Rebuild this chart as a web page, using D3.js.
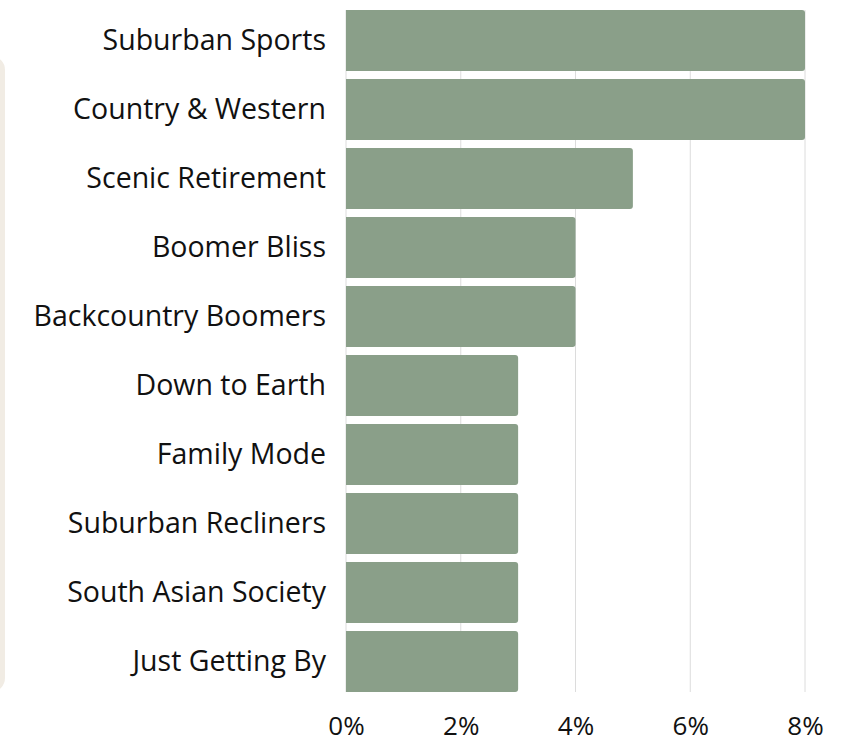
<!DOCTYPE html>
<html>
<head>
<meta charset="utf-8">
<script src="https://cdn.jsdelivr.net/npm/d3@7"></script>
<style>
  body { margin: 0; background: #fff; }
  svg { display: block; font-family: "Open Sans", sans-serif; }
</style>
</head>
<body>
<script>
// data
var segments = ['Suburban Sports', 'Country & Western', 'Scenic Retirement', 'Boomer Bliss',
    'Backcountry Boomers', 'Down to Earth', 'Family Mode', 'Suburban Recliners',
    'South Asian Society', 'Just Getting By']
var shares = [8, 8, 5, 4, 4, 3, 3, 3, 3, 3]
var xTicks = [0, 2, 4, 6, 8]

var W = 846, H = 741
var margin = { top: 10, right: 41, bottom: 49, left: 346 },
    width = W - margin.left - margin.right,
    height = H - margin.top - margin.bottom

var data = segments.map((s, i) => ({ name: s, value: shares[i] }))

var svg = d3.select('body').append('svg')
    .attr('width', W)
    .attr('height', H)

// beige side panel, mostly off-canvas
svg.append('rect')
    .attr('x', -30)
    .attr('y', 56)
    .attr('width', 35)
    .attr('height', 636)
    .attr('rx', 14)
    .attr('fill', '#f1ece4')

var g = svg.append('g')
    .attr('transform', 'translate(' + margin.left + ',' + margin.top + ')')

var x = d3.scaleLinear().domain([0, 8]).range([0, width])
var y = d3.scaleBand().domain(segments).range([0, height]).paddingInner(0.115).paddingOuter(0)

// gridlines
g.selectAll('.grid')
    .data(xTicks)
    .enter().append('line')
    .attr('x1', d => x(d))
    .attr('x2', d => x(d))
    .attr('y1', 0)
    .attr('y2', height)
    .attr('stroke', '#dcdcdc')
    .attr('stroke-width', 1)

// bars with rounded right end
var r = 3
function barPath(d) {
    var x0 = x(0), x1 = x(d.value), y0 = y(d.name), h = y.bandwidth()
    return 'M' + x0 + ',' + y0 +
        'H' + (x1 - r) +
        'Q' + x1 + ',' + y0 + ' ' + x1 + ',' + (y0 + r) +
        'V' + (y0 + h - r) +
        'Q' + x1 + ',' + (y0 + h) + ' ' + (x1 - r) + ',' + (y0 + h) +
        'H' + x0 + 'Z'
}

g.selectAll('.bar')
    .data(data)
    .enter().append('path')
    .attr('class', 'bar')
    .attr('d', barPath)
    .attr('fill', '#8a9f89')

// y axis labels
var yAxis = g.append('g')
    .call(d3.axisLeft(y).tickSize(0).tickPadding(20))
yAxis.select('.domain').remove()
yAxis.selectAll('text')
    .attr('font-size', 28.5)
    .attr('font-family', '"Open Sans", sans-serif')
    .attr('fill', '#111')

// x axis
var xAxis = g.append('g')
    .attr('transform', 'translate(0,' + height + ')')
    .call(d3.axisBottom(x).tickValues(xTicks).tickFormat(d => d + '%').tickSize(0).tickPadding(25))
xAxis.select('.domain').remove()
xAxis.selectAll('text')
    .attr('font-size', 26)
    .attr('font-family', '"Open Sans", sans-serif')
    .attr('fill', '#111')
</script>
</body>
</html>
